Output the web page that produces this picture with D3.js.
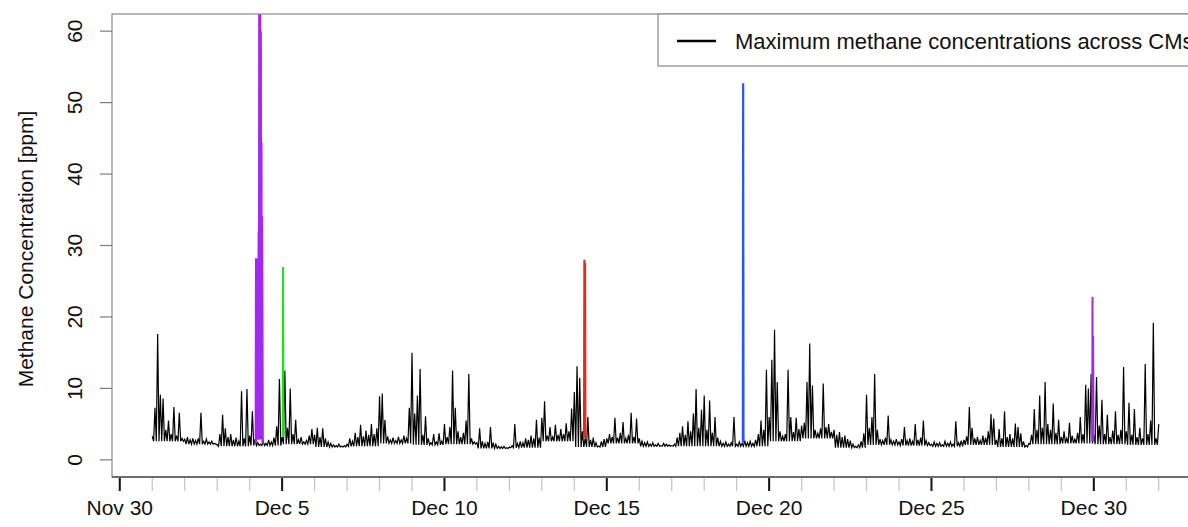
<!DOCTYPE html>
<html>
<head>
<meta charset="utf-8">
<script src="https://cdn.jsdelivr.net/npm/d3@7"></script>
<style>
  body { margin: 0; background: #fff; }
  text { font-family: "Liberation Sans", Arial, Helvetica, sans-serif; }
</style>
</head>
<body>
<div id="chart"></div>
<script>
// ----------------------------------
// DATA
// ----------------------------------

// maximum methane across CMs: highest value in each 2 hour window, starting Dec 1 00:00
const seriesStart = "2019-12-01 00:00";
const stepHours = 2;
const maxMethane = [
  3.3, 7.3, 17.6, 9.1, 8.6, 4.2, 5.5, 3.6, 7.4, 3.4, 6.6, 3.0,      // Dec 1
  2.9, 3.2, 2.8, 3.0, 2.7, 3.0, 6.6, 2.6, 2.9, 2.5, 2.6, 2.3,       // Dec 2
  2.1, 3.6, 6.3, 4.4, 3.2, 3.6, 2.8, 3.1, 2.6, 9.6, 3.0, 9.9,       // Dec 3
  3.4, 6.8, 2.9, 2.4, 2.2, 2.6, 2.3, 2.8, 2.5, 3.1, 4.7, 11.3,      // Dec 4
  3.2, 12.5, 4.5, 10.0, 3.6, 5.6, 2.8, 3.2, 2.5, 2.7, 3.4, 4.3,     // Dec 5
  3.5, 4.5, 3.2, 4.4, 3.0, 2.5, 2.3, 2.1, 2.0, 2.2, 1.9, 2.0,       // Dec 6
  2.2, 3.0, 2.6, 3.8, 3.2, 4.9, 3.3, 4.1, 3.5, 5.0, 3.6, 4.4,       // Dec 7
  8.9, 9.3, 5.6, 3.3, 2.8, 3.1, 2.7, 3.2, 2.8, 3.4, 3.0, 7.3,       // Dec 8
  15.0, 6.5, 9.0, 12.7, 3.5, 6.1, 3.0, 2.4, 3.6, 2.5, 3.7, 2.6,     // Dec 9
  5.0, 3.2, 4.6, 12.5, 7.3, 4.0, 3.2, 3.8, 5.5, 12.0, 3.0, 2.5,     // Dec 10
  2.4, 4.4, 2.6, 2.3, 2.5, 4.6, 2.4, 2.2, 1.9, 1.8, 1.9, 1.7,       // Dec 11
  1.8, 2.0, 5.0, 2.3, 2.6, 2.4, 3.0, 2.8, 3.4, 3.0, 5.6, 3.1,       // Dec 12
  5.9, 8.2, 3.4, 4.6, 3.2, 4.9, 3.5, 4.3, 3.6, 5.1, 4.0, 7.2,       // Dec 13
  9.5, 13.1, 11.5, 4.0, 3.0, 6.0, 2.8, 3.1, 2.4, 1.9, 2.6, 2.9,     // Dec 14
  3.0, 3.6, 3.2, 5.9, 3.1, 3.8, 5.3, 3.0, 3.5, 6.6, 3.2, 5.8,       // Dec 15
  3.0, 2.6, 2.4, 2.5, 2.2, 2.4, 2.1, 2.3, 2.0, 2.3, 2.2, 2.1,       // Dec 16
  2.0, 2.2, 3.1, 3.8, 4.7, 3.5, 5.4, 4.0, 6.5, 9.9, 4.5, 7.0,       // Dec 17
  9.0, 4.2, 8.3, 3.8, 6.0, 3.1, 2.6, 2.3, 2.5, 2.2, 2.4, 6.0,       // Dec 18
  2.2, 2.5, 2.3, 2.7, 2.4, 2.6, 2.3, 2.8, 3.6, 5.5, 4.2, 12.6,      // Dec 19
  6.0, 14.0, 18.2, 10.9, 4.0, 3.3, 3.6, 12.6, 6.0, 3.9, 5.9, 4.3,   // Dec 20
  4.8, 5.2, 10.9, 16.3, 10.4, 4.2, 3.7, 4.4, 10.7, 4.6, 5.0, 3.9,   // Dec 21
  4.2, 3.5, 3.9, 3.2, 3.4, 2.9, 2.7, 2.2, 1.9, 2.1, 2.6, 3.7,       // Dec 22
  9.1, 4.5, 6.0, 12.0, 4.2, 2.9, 2.7, 3.1, 6.2, 2.8, 2.6, 2.9,      // Dec 23
  2.5, 2.9, 4.6, 2.7, 3.0, 2.6, 5.0, 2.8, 3.1, 5.5, 2.7, 2.4,       // Dec 24
  2.2, 2.5, 2.3, 2.4, 2.1, 2.6, 2.3, 2.5, 2.2, 5.4, 2.4, 2.7,       // Dec 25
  2.8, 3.3, 7.4, 4.5, 3.0, 3.2, 2.7, 3.4, 3.1, 4.0, 6.4, 5.8,       // Dec 26
  2.8, 4.3, 3.0, 6.8, 3.2, 3.6, 3.0, 5.1, 4.6, 3.7, 2.6, 2.0,       // Dec 27
  2.3, 3.5, 7.1, 4.2, 9.0, 4.5, 10.9, 5.0, 4.2, 7.9, 3.8, 5.6,      // Dec 28
  3.2, 4.0, 3.0, 5.2, 3.4, 2.9, 3.8, 6.0, 3.6, 10.5, 10.0, 12.0,    // Dec 29
  3.5, 11.6, 4.8, 8.4, 3.6, 6.3, 3.2, 4.1, 6.8, 3.5, 4.2, 13.0,     // Dec 30
  4.0, 8.0, 3.5, 7.1, 3.2, 4.5, 3.0, 13.4, 3.6, 5.5, 19.2, 3.0,     // Dec 31
  5.0                                                               // Jan 1
];

// lower edge of the noisy black band, one value per day (Dec 1 .. Dec 31)
const dailyLow = [2.6, 2.2, 1.9, 2.0, 2.2, 1.8, 1.9, 2.3, 2.1, 2.2, 1.6, 1.7, 2.6, 1.8, 2.3, 1.9,
  1.9, 1.9, 1.9, 2.6, 3.0, 1.7, 2.1, 2.0, 1.9, 2.1, 1.8, 2.2, 2.3, 2.2, 2.1];

// individual CM events drawn in colour on top
const purpleEventTimes = ["2019-12-04 04:34","2019-12-04 04:48","2019-12-04 05:02","2019-12-04 05:17",
  "2019-12-04 05:31","2019-12-04 05:46","2019-12-04 06:00","2019-12-04 06:14","2019-12-04 06:29",
  "2019-12-04 06:43","2019-12-04 06:58","2019-12-04 07:12","2019-12-04 07:26","2019-12-04 07:41",
  "2019-12-04 07:55","2019-12-04 08:10","2019-12-04 08:24","2019-12-04 08:38","2019-12-04 08:53",
  "2019-12-04 09:07","2019-12-04 09:36"];
const purpleEventValues = [2.4, 28.2, 3.0, 28.0, 2.8, 27.0, 3.2, 28.2, 3.0, 32.0, 2.8,
  75, 3.0, 75, 3.1, 60, 2.9, 44.5, 3.0, 34.1, 2.3];

const greenEventTimes = ["2019-12-05 00:29","2019-12-05 00:43","2019-12-05 00:58"];
const greenEventValues = [3.3, 27.0, 3.2];

const redEventTimes = ["2019-12-14 07:12","2019-12-14 07:26","2019-12-14 07:41","2019-12-14 07:55","2019-12-14 08:10"];
const redEventValues = [3.1, 28.0, 3.4, 27.6, 3.0];

const blueEventTimes = ["2019-12-19 04:34","2019-12-19 04:48","2019-12-19 05:02"];
const blueEventValues = [2.4, 52.7, 2.5];

const purple2EventTimes = ["2019-12-29 22:48","2019-12-29 23:02","2019-12-29 23:17","2019-12-29 23:31","2019-12-29 23:46"];
const purple2EventValues = [2.6, 22.8, 3.0, 17.3, 2.7];

// axes
const xMajorDates = ["2019-11-30","2019-12-05","2019-12-10","2019-12-15","2019-12-20","2019-12-25","2019-12-30"];
const xMajorLabels = ["Nov 30","Dec 5","Dec 10","Dec 15","Dec 20","Dec 25","Dec 30"];
const yTicks = [0, 10, 20, 30, 40, 50, 60];
const yLimits = [0, 60];

const legendLabel = "Maximum methane concentrations across CMs";
const yTitle = "Methane Concentration [ppm]";

// ----------------------------------
// SETUP
// ----------------------------------
const width = 1188, height = 527;
const plot = {left: 112, top: 14, bottom: 477, right: 1199};

const parseTime = d3.timeParse("%Y-%m-%d %H:%M");
const parseDay = d3.timeParse("%Y-%m-%d");

const t0 = parseTime(seriesStart);
// each 2h window contributes its peak, then the day's low half an interval later,
// which gives the dense saw-tooth band of the raw record
const blackData = [];
maxMethane.forEach((v, i) => {
  const t = d3.timeHour.offset(t0, i * stepHours);
  blackData.push({t: t, v: v});
  const day = Math.floor(i * stepHours / 24);
  if (i < maxMethane.length - 1) {
    blackData.push({t: d3.timeHour.offset(t, stepHours / 2), v: dailyLow[day]});
  }
});

function toSeries(times, values){
  return times.map((s, i) => ({t: parseTime(s), v: values[i]}));
}
const events = [
  {color: "#a22af0", width: 2.4, data: toSeries(purpleEventTimes, purpleEventValues)},
  {color: "#1fe01f", width: 2, data: toSeries(greenEventTimes, greenEventValues)},
  {color: "#e82a1c", width: 2.2, data: toSeries(redEventTimes, redEventValues)},
  {color: "#2a52ff", width: 2.2, data: toSeries(blueEventTimes, blueEventValues)},
  {color: "#a22af0", width: 2, data: toSeries(purple2EventTimes, purple2EventValues)}
];

// R style 4% padding on both axes
const tExtent = d3.extent(blackData, d => d.t);
const span = tExtent[1] - tExtent[0];
const xScale = d3.scaleTime()
  .domain([new Date(+tExtent[0] - 0.04 * span), new Date(+tExtent[1] + 0.04 * span)])
  .range([plot.left, plot.right]);

const yPad = 0.04 * (yLimits[1] - yLimits[0]);
const yScale = d3.scaleLinear()
  .domain([yLimits[0] - yPad, yLimits[1] + yPad])
  .range([plot.bottom, plot.top]);

const svg = d3.select("#chart").append("svg")
  .attr("width", width)
  .attr("height", height);

svg.append("defs").append("clipPath").attr("id", "plotClip")
  .append("rect")
  .attr("x", plot.left).attr("y", plot.top)
  .attr("width", plot.right - plot.left).attr("height", plot.bottom - plot.top);

// ----------------------------------
// LINES
// ----------------------------------
const line = d3.line()
  .x(d => xScale(d.t))
  .y(d => yScale(d.v));

const lines = svg.append("g").attr("clip-path", "url(#plotClip)");

lines.append("path")
  .datum(blackData)
  .attr("d", line)
  .style("fill", "none")
  .style("stroke", "#000")
  .style("stroke-width", 1.2)
  .style("stroke-linejoin", "miter");

events.forEach(e => {
  lines.append("path")
    .datum(e.data)
    .attr("d", line)
    .style("fill", "none")
    .style("stroke", e.color)
    .style("stroke-width", e.width);
});

// ----------------------------------
// FRAME AND AXES
// ----------------------------------
svg.append("rect")
  .attr("x", plot.left).attr("y", plot.top)
  .attr("width", plot.right - plot.left).attr("height", plot.bottom - plot.top)
  .style("fill", "none")
  .style("stroke", "#8a8a8a")
  .style("stroke-width", 1.2);

// y axis
const yAxis = svg.append("g").attr("class", "y axis");
yAxis.selectAll("line")
  .data(yTicks)
  .enter().append("line")
    .attr("x1", plot.left - 12).attr("x2", plot.left)
    .attr("y1", d => yScale(d)).attr("y2", d => yScale(d))
    .style("stroke", "#7a7a7a")
    .style("stroke-width", 1.2);
yAxis.selectAll("text")
  .data(yTicks)
  .enter().append("text")
    .attr("transform", d => `translate(82,${yScale(d)}) rotate(-90)`)
    .attr("text-anchor", "middle")
    .style("font-size", "21px")
    .style("fill", "#111")
    .text(d => d);

svg.append("text")
  .attr("transform", `translate(33,249) rotate(-90)`)
  .attr("text-anchor", "middle")
  .style("font-size", "21px")
  .style("fill", "#111")
  .text(yTitle);

// x axis
const xAxis = svg.append("g").attr("class", "x axis");
xAxis.append("line")
  .attr("x1", plot.left).attr("x2", plot.right)
  .attr("y1", plot.bottom).attr("y2", plot.bottom)
  .style("stroke", "#555")
  .style("stroke-width", 1.4);

const majorDates = xMajorDates.map(parseDay);
const minorDates = d3.timeDay.range(parseDay("2019-11-30"), parseDay("2020-01-02"))
  .filter(d => !majorDates.some(m => +m === +d));

xAxis.selectAll("line.minor")
  .data(minorDates)
  .enter().append("line")
    .attr("class", "minor")
    .attr("x1", d => xScale(d)).attr("x2", d => xScale(d))
    .attr("y1", plot.bottom + 1).attr("y2", plot.bottom + 14)
    .style("stroke", "#c4c4c4")
    .style("stroke-width", 1.2);

xAxis.selectAll("line.major")
  .data(majorDates)
  .enter().append("line")
    .attr("class", "major")
    .attr("x1", d => xScale(d)).attr("x2", d => xScale(d))
    .attr("y1", plot.bottom + 1).attr("y2", plot.bottom + 14)
    .style("stroke", "#111")
    .style("stroke-width", 2);

xAxis.selectAll("text")
  .data(majorDates)
  .enter().append("text")
    .attr("x", d => xScale(d))
    .attr("y", 515)
    .attr("text-anchor", "middle")
    .style("font-size", "21px")
    .style("fill", "#111")
    .text((d, i) => xMajorLabels[i]);

// ----------------------------------
// LEGEND (runs off the right edge, as in the original figure)
// ----------------------------------
const legend = svg.append("g").attr("class", "legend");
legend.append("rect")
  .attr("x", 658).attr("y", plot.top)
  .attr("width", plot.right - 658).attr("height", 52)
  .style("fill", "#fff")
  .style("stroke", "#8a8a8a")
  .style("stroke-width", 1.2);
legend.append("line")
  .attr("x1", 677).attr("x2", 716)
  .attr("y1", 41).attr("y2", 41)
  .style("stroke", "#000")
  .style("stroke-width", 2.5);
legend.append("text")
  .attr("x", 735).attr("y", 41)
  .attr("dy", "0.35em")
  .style("font-size", "22px")
  .style("fill", "#111")
  .text(legendLabel);
</script>
</body>
</html>
